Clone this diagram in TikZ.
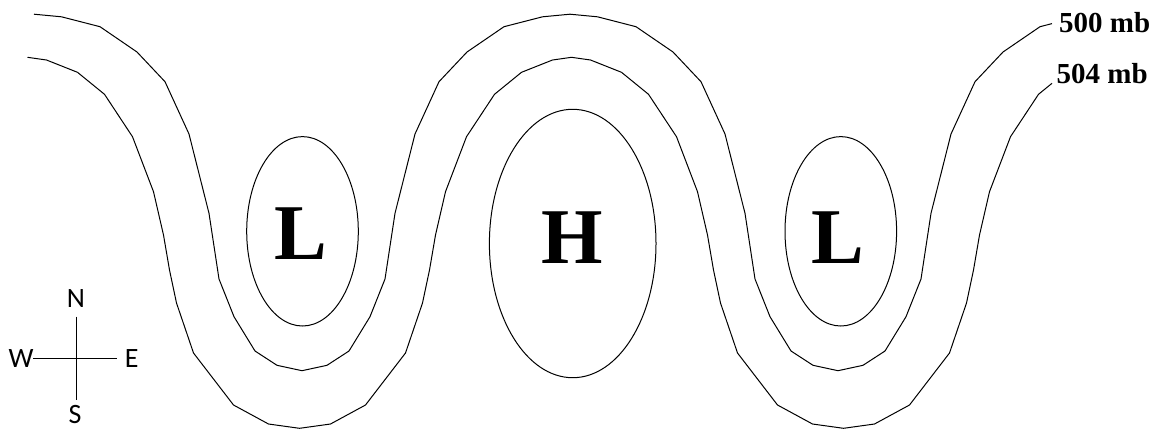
\documentclass[tikz,border=0pt]{standalone}
\usepackage{fontspec}
\setmainfont{Liberation Serif}
\newfontfamily\compassfont{Carlito}
\tikzset{
  contour/.style={line width=1pt, line join=round},
  center/.style={line width=1pt},
  bigletter/.style={font=\bfseries\fontsize{79}{79}\selectfont, inner sep=0pt, anchor=base},
  mblabel/.style={font=\bfseries\fontsize{29}{29}\selectfont, inner sep=0pt, anchor=base west},
  dirlabel/.style={font=\compassfont\fontsize{28}{28}\selectfont, inner sep=0pt},
  axis/.style={line width=1pt}
}
\begin{document}
\begin{tikzpicture}[x=1pt,y=-1pt]
\useasboundingbox (0,0) rectangle (1161,429);
% 500 mb contour
\draw[contour] (34,14.2) -- (61.5,16.8) -- (100,26.7) -- (137,52) -- (165,81.7) -- (189,134) -- (209,213.3) -- (219,279) -- (234,316.7) -- (255,351) -- (277,365.3) -- (302,370.7)
 -- (327,365.3) -- (349,351) -- (370,316.7) -- (385,279) -- (395,213.3) -- (415,134) -- (439,81.7) -- (467,52) -- (504,26.7) -- (542.5,16.8) -- (570,14.2)
 -- (597.5,16.8) -- (636,26.7) -- (673,52) -- (701,81.7) -- (725,134) -- (745,213.3) -- (755,279) -- (770,316.7) -- (791,351) -- (813,365.3) -- (838,370.7)
 -- (863,365.3) -- (885,351) -- (906,316.7) -- (921,279) -- (931,213.3) -- (951,134) -- (975,81.7) -- (1003,52) -- (1040,26.7) -- (1052,23.6) coordinate (aend);
% 504 mb contour
\draw[contour] (27.5,57.3) -- (46.5,60) -- (77.5,72.3) -- (104.5,94.3) -- (132.5,136.7) -- (153.5,191.7) -- (163.5,235) -- (169.5,270) -- (176.5,303) -- (193.5,353) -- (233.5,405) -- (268.5,424) -- (299.5,428.3)
 -- (330.5,424) -- (365.5,405) -- (405.5,353) -- (422.5,303) -- (429.5,270) -- (435.5,235) -- (445.5,191.7) -- (466.5,136.7) -- (494.5,94.3) -- (521.5,72.3) -- (552.5,60) -- (571.5,57.3)
 -- (590.5,60) -- (621.5,72.3) -- (648.5,94.3) -- (676.5,136.7) -- (697.5,191.7) -- (707.5,235) -- (713.5,270) -- (720.5,303) -- (737.5,353) -- (777.5,405) -- (812.5,424) -- (843.5,428.3)
 -- (874.5,424) -- (909.5,405) -- (949.5,353) -- (966.5,303) -- (973.5,270) -- (979.5,235) -- (989.5,191.7) -- (1010.5,136.7) -- (1038.5,94.3) -- (1052,83.3) coordinate (bend);
% centres
\draw[center] (302.5,231.3) ellipse [x radius=55.8, y radius=94.7];
\draw[center] (572.7,243.5) ellipse [x radius=83.3, y radius=134.2];
\draw[center] (840.8,231.3) ellipse [x radius=55.8, y radius=94.7];
\node[bigletter] (low1) at (301,259.3) {L};
\node[bigletter] (high) at (572.5,263.3) {H};
\node[bigletter] (low2) at (838,263.3) {L};
% labels
\node[mblabel] (l500) at (1059,32.3) {500 mb};
\node[mblabel] (l504) at (1056.5,83.3) {504 mb};
% compass
\node[dirlabel] (N) at (75.8,298.8) {N};
\node[dirlabel] (S) at (75,414.5) {S};
\node[dirlabel] (W) at (21.2,358.5) {W};
\node[dirlabel] (E) at (131.7,358.5) {E};
\coordinate (ctop) at (76,316.7);
\coordinate (cbot) at (76,400);
\coordinate (cleft) at (33.3,358.7);
\coordinate (cright) at (117.3,358.7);
\draw[axis] (ctop) -- (cbot);
\draw[axis] (cleft) -- (cright);
\end{tikzpicture}
\end{document}
